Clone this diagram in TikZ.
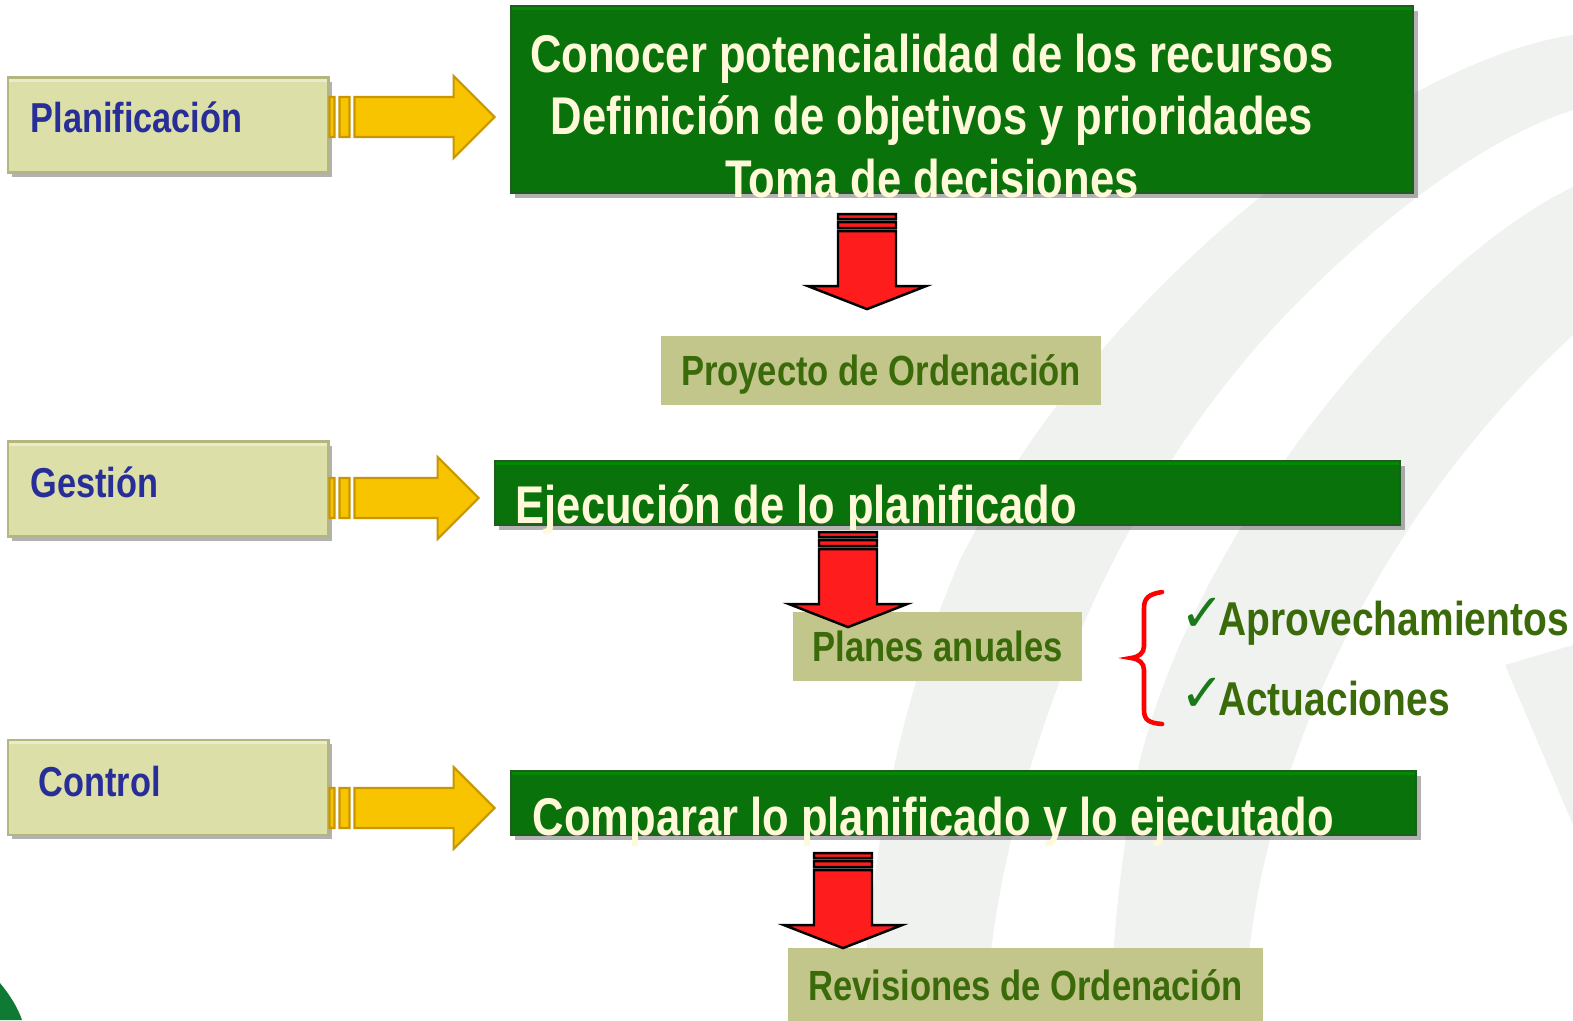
\documentclass[tikz,border=0pt]{standalone}
\usepackage{fontspec}
\setmainfont{Liberation Sans}
\newfontfamily\narrowfont[FakeStretch=0.82]{Liberation Sans}
\newfontfamily\checkfont{DejaVu Sans}
\usepackage{xcolor}
\usepackage{tikz}
\usetikzlibrary{calc,shadows}
\definecolor{boxgreen}{HTML}{0A720A}
\definecolor{boxedge}{HTML}{1E5E1E}
\definecolor{creamtext}{HTML}{FFF9D9}
\definecolor{labelfill}{HTML}{DCDFA8}
\definecolor{labeledge}{HTML}{B4B67E}
\definecolor{labelblue}{HTML}{282E98}
\definecolor{arrowyellow}{HTML}{F8C400}
\definecolor{arrowgold}{HTML}{C89600}
\definecolor{arrowred}{HTML}{FF1C1C}
\definecolor{khaki}{HTML}{C2C68A}
\definecolor{olivetext}{HTML}{3B6A0A}
\definecolor{checkgreen}{HTML}{1A7A1A}
\definecolor{watermark}{HTML}{F0F2F0}
\definecolor{cornergreen}{HTML}{0E7A34}
\newcommand{\tickmark}{{\checkfont\color{checkgreen}\fontsize{15}{15}\selectfont\raisebox{0.9pt}{✓}}\hspace{-1.9pt}}
\tikzstyle{stage} = [rectangle, fill=labelfill, draw=labeledge, line width=0.8pt, minimum width=3.2cm, minimum height=0.95cm, drop shadow={shadow xshift=1.2pt, shadow yshift=-1.2pt, opacity=0.3, fill=black}, path picture={\fill[white, opacity=0.4] (path picture bounding box.north west) rectangle ([yshift=-1.2pt]path picture bounding box.north east);}]
\tikzstyle{stagetext} = [anchor=base west, inner sep=0, text=labelblue, font=\narrowfont\bfseries\fontsize{11.9}{14}\selectfont]
\tikzstyle{task} = [rectangle, fill=boxgreen, draw=boxedge, line width=0.6pt, drop shadow={shadow xshift=1.2pt, shadow yshift=-1.4pt, opacity=0.3, fill=black}, path picture={\fill[green!60!black, opacity=0.6] (path picture bounding box.north west) rectangle ([yshift=-1.2pt]path picture bounding box.north east);}]
\tikzstyle{tasktext} = [inner sep=0, text=creamtext, font=\narrowfont\bfseries\fontsize{15.1}{17.9}\selectfont]
\tikzstyle{result} = [rectangle, fill=khaki, inner sep=0, text=olivetext, text height=8.6pt, text depth=0pt, font=\narrowfont\bfseries\fontsize{12}{14}\selectfont]
\tikzstyle{item} = [anchor=base west, inner sep=0, text=olivetext, font=\narrowfont\bfseries\fontsize{13.5}{16}\selectfont]
\tikzstyle{yline} = [fill=arrowyellow, draw=arrowgold, line width=0.6pt, to path={let \p1=(\tikztostart), \p2=(\tikztotarget) in
  ($(\p1)+(0,-20)$) rectangle ($(\p1)+(5,20)$)
  ($(\p1)+(10,-20)$) rectangle ($(\p1)+(20,20)$)
  ($(\p1)+(25,-20)$) -- ($(\x2,\y1)+(-56,-20)$) -- ($(\x2,\y1)+(-56,-41)$) -- ($(\x2,\y1)+(-15,0)$)
  -- ($(\x2,\y1)+(-56,41)$) -- ($(\x2,\y1)+(-56,20)$) -- ($(\p1)+(25,20)$) -- cycle}]
\tikzstyle{rline} = [fill=arrowred, draw=black, line width=0.7pt, to path={let \p1=(\tikztostart) in
  ($(\p1)+(-29,0)$) rectangle ($(\p1)+(29,5)$)
  ($(\p1)+(-29,8)$) rectangle ($(\p1)+(29,14)$)
  ($(\p1)+(-29,17)$) -- ($(\p1)+(29,17)$) -- ($(\p1)+(29,72)$) -- ($(\p1)+(59,72)$) -- ($(\p1)+(0,95)$)
  -- ($(\p1)+(-59,72)$) -- ($(\p1)+(-29,72)$) -- cycle}]
\tikzstyle{brace} = [draw=red, line width=1.3pt, line cap=round]

\begin{document}
\begin{tikzpicture}[x=0.01cm, y=-0.01cm]
\fill[white] (0,0) rectangle (1573,1020);
\useasboundingbox (0,0) rectangle (1573,1020);
% watermark
\fill[watermark] (1573,35) .. controls (1400,60) and (1100,280) .. (960,560) .. controls (900,700) and (870,850) .. (862,1020) -- (985,1020) .. controls (995,800) and (1100,500) .. (1300,300) .. controls (1380,220) and (1480,140) .. (1573,110) -- cycle;
\fill[watermark] (1573,187) .. controls (1420,260) and (1200,520) .. (1140,760) .. controls (1120,850) and (1112,950) .. (1110,1020) -- (1245,1020) .. controls (1245,850) and (1330,560) .. (1573,335) -- cycle;
\fill[watermark] (1505,665) -- (1573,645) -- (1573,825) -- cycle;
\fill[cornergreen] (0,983) .. controls (10,995) and (18,1008) .. (22,1020) -- (0,1020) -- cycle;

\node [stage] (plan-box) at (168,125) {};
\node [stagetext] (plan-text) at (30,132.5) {Planificación};
\node [stage] (gest-box) at (168,489) {};
\node [stagetext] (gest-text) at (30,497) {Gestión};
\node [stage] (ctrl-box) at (168,787.5) {};
\node [stagetext] (ctrl-text) at (38,796) {Control};

\node [task, minimum width=9.02cm, minimum height=1.87cm] (conocer-box) at (962,99.5) {};
\node [tasktext, align=center] (conocer-text) at (932,116) {Conocer potencialidad de los recursos\\Definición de objetivos y prioridades\\Toma de decisiones};
\node [task, minimum width=9.05cm, minimum height=0.64cm] (ejec-box) at (947.5,493) {};
\node [tasktext, anchor=base west] (ejec-text) at (515,523) {Ejecución de lo planificado};
\node [task, minimum width=9.05cm, minimum height=0.64cm] (comp-box) at (963.5,803) {};
\node [tasktext, anchor=base west] (comp-text) at (532,835) {Comparar lo planificado y lo ejecutado};

\node [result, minimum width=4.4cm, minimum height=0.69cm] (proyecto) at (881,370.5) {Proyecto de Ordenación};
\node [result, minimum width=2.89cm, minimum height=0.69cm] (planes) at (937.5,646.5) {Planes anuales};
\node [result, minimum width=4.75cm, minimum height=0.74cm] (revisiones) at (1025.5,985) {Revisiones de Ordenación};

\path [yline] ($(plan-box.east)+(0,-8)$) to (conocer-box.west);
\path [yline] ($(gest-box.east)+(0,9)$) to (ejec-box.west);
\path [yline] ($(ctrl-box.east)+(0,20.5)$) to (comp-box.west);

\path [rline] ($(conocer-box.south)+(-95,20)$) to (proyecto);
\path [rline] ($(ejec-box.south)+(-99.5,6)$) to (planes);
\path [rline] ($(comp-box.south)+(-120.5,17)$) to (revisiones);

\draw [brace] (1162,592) .. controls (1149,594) and (1144,598) .. (1144,608) -- (1144,646) .. controls (1144,653) and (1139,657) .. (1131,658) .. controls (1139,659) and (1144,663) .. (1144,670) -- (1144,710) .. controls (1144,720) and (1149,723) .. (1162,724);
\node [item] (aprov) at (1180,635) {\tickmark Aprovechamientos};
\node [item] (actua) at (1180,715) {\tickmark Actuaciones};
\end{tikzpicture}
\end{document}
